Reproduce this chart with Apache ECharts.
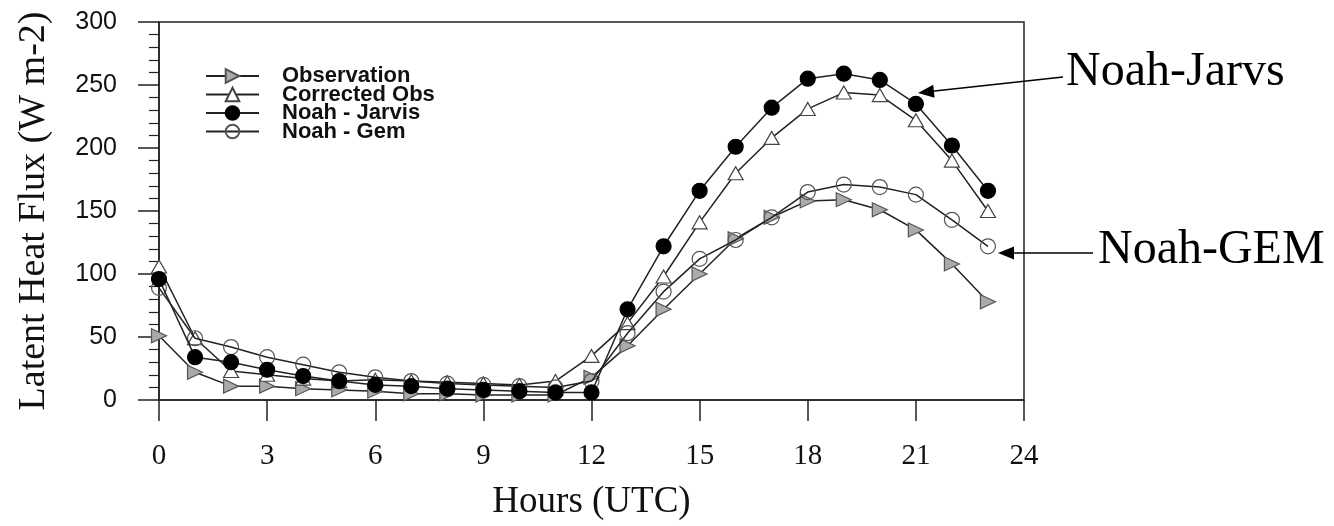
<!DOCTYPE html>
<html>
<head>
<meta charset="utf-8">
<title>Latent Heat Flux</title>
<script src="https://cdn.jsdelivr.net/npm/echarts@6/dist/echarts.min.js"></script>
<style>
    html, body { margin: 0; padding: 0; background: #fff; }
    #main { width: 1334px; height: 526px; }
</style>
</head>
<body>
<div id="main"></div>
<script>
// hours 0..23 (UTC)
var hours = [0, 1, 2, 3, 4, 5, 6, 7, 8, 9, 10, 11, 12, 13, 14, 15, 16, 17, 18, 19, 20, 21, 22, 23];

// latent heat flux, W m-2
var observation = [51, 22, 11, 11, 9, 8, 7, 5, 5, 4, 4, 4, 18, 43, 72, 100, 128, 145, 158, 159, 151, 135, 108, 78];
var correctedObs = [106, 49, 23, 20, 17, 15, 16, 15, 14, 13, 12, 15, 35, 61, 98, 141, 180, 208, 231, 244, 242, 222, 190, 150];
var noahJarvis = [96, 34, 30, 24, 19, 15, 12, 11, 9, 8, 7, 6, 6, 72, 122, 166, 201, 232, 255, 259, 254, 235, 202, 166];
var noahGem = [89, 49, 42, 34, 28, 22, 18, 15, 13, 12, 11, 10, 15, 53, 86, 112, 127, 145, 165, 171, 169, 163, 143, 122];

var seriesNames = ['Observation', 'Corrected Obs', 'Noah - Jarvis', 'Noah - Gem'];

var serif = "'Liberation Serif', 'Times New Roman', serif";
var sans = "'Liberation Sans', Arial, sans-serif";
var ink = '#222';

function pairs(values) {
    var out = [];
    for (var i = 0; i < hours.length; i++) {
        out.push([hours[i], values[i]]);
    }
    return out;
}

function lineSeries(name, values, symbol, size, fill, border, z) {
    return {
        name: name,
        type: 'line',
        data: pairs(values),
        symbol: symbol,
        symbolSize: size,
        showAllSymbol: true,
        z: z,
        lineStyle: { color: ink, width: 1.5 },
        itemStyle: { color: fill, borderColor: border, borderWidth: 1.2 },
        emphasis: { disabled: true }
    };
}

var chart = echarts.init(document.getElementById('main'));

var option = {
    animation: false,
    backgroundColor: '#fff',
    grid: {
        left: 159,
        right: 310,
        top: 22,
        bottom: 120,
        show: true,
        borderColor: ink,
        borderWidth: 1.5,
        backgroundColor: 'transparent'
    },
    legend: {
        orient: 'vertical',
        left: 200,
        top: 60,
        itemWidth: 53,
        itemHeight: 17,
        itemGap: -3.5,
        data: seriesNames,
        textStyle: {
            fontFamily: sans,
            fontWeight: 'bold',
            fontSize: 22,
            color: '#111',
            padding: [0, 0, 0, 18]
        }
    },
    xAxis: {
        type: 'value',
        min: 0,
        max: 24,
        interval: 3,
        name: 'Hours (UTC)',
        nameLocation: 'middle',
        nameGap: 84,
        nameTextStyle: { fontFamily: serif, fontSize: 37, color: '#111' },
        axisLine: { show: true, onZero: false, lineStyle: { color: ink, width: 1.5 } },
        axisTick: { show: true, length: 21, lineStyle: { color: ink, width: 1.5 } },
        axisLabel: { fontFamily: serif, fontSize: 29, color: '#111', margin: 42 },
        splitLine: { show: false }
    },
    yAxis: {
        type: 'value',
        min: 0,
        max: 300,
        interval: 50,
        name: 'Latent Heat Flux (W m-2)',
        nameLocation: 'middle',
        nameGap: 106,
        nameTextStyle: { fontFamily: serif, fontSize: 38, color: '#111' },
        axisLine: { show: true, lineStyle: { color: ink, width: 1.5 } },
        axisTick: { show: true, length: 21, lineStyle: { color: ink, width: 1.5 } },
        minorTick: { show: true, splitNumber: 5, length: 10, lineStyle: { color: ink, width: 1.2 } },
        axisLabel: { fontFamily: sans, fontSize: 25, color: '#111', margin: 42 },
        splitLine: { show: false }
    },
    series: [
        lineSeries(seriesNames[0], observation, 'path://M0,0 L10,5 L0,10 Z', [15, 14], '#aaa', '#555', 2),
        lineSeries(seriesNames[1], correctedObs, 'triangle', [15, 13], '#fff', '#444', 3),
        lineSeries(seriesNames[2], noahJarvis, 'circle', 15, '#000', '#000', 5),
        lineSeries(seriesNames[3], noahGem, 'circle', 15, 'rgba(255,255,255,0)', '#555', 4)
    ],
    graphic: [
        // annotation labels with arrows
        { type: 'text', left: 1066, top: 48, style: { text: 'Noah-Jarvs', font: '48px ' + serif, fill: '#000' } },
        { type: 'line', shape: { x1: 1063, y1: 77, x2: 930, y2: 91.5 }, style: { stroke: '#000', lineWidth: 1.5 } },
        { type: 'polygon', shape: { points: [[918, 93], [934.6, 97.7], [933.2, 84.8]] }, style: { fill: '#000' } },
        { type: 'text', left: 1098, top: 226, style: { text: 'Noah-GEM', font: '48px ' + serif, fill: '#000' } },
        { type: 'line', shape: { x1: 1093, y1: 253, x2: 1010, y2: 253 }, style: { stroke: '#000', lineWidth: 1.5 } },
        { type: 'polygon', shape: { points: [[998, 253], [1014, 246.5], [1014, 259.5]] }, style: { fill: '#000' } }
    ]
};

chart.setOption(option);
</script>
</body>
</html>
